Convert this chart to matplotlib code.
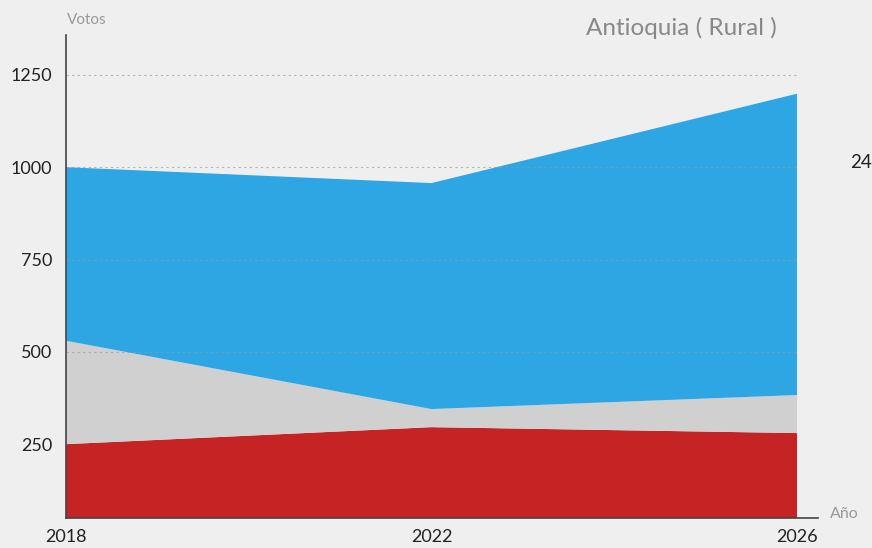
import numpy as np
from matplotlib import pyplot as plt

# datos (votos apilados)
anios = [2018, 2022, 2026]
rojo = [250, 296, 280]
gris = [280, 49, 103]
azul = [470, 612, 816]
yticks = [250, 500, 750, 1000, 1250]

bg = '#efefef'
plt.rcParams['font.family'] = ['Lato', 'DejaVu Sans']

fig = plt.figure(figsize=(8.72, 5.48), dpi=100, facecolor=bg)
ax = fig.add_axes([66/872, 30/548, 752/872, 483/548])
ax.set_facecolor(bg)

ax.stackplot(anios, rojo, gris, azul, colors=['#c62325', '#d0d0d0', '#2ea6e4'],
             linewidth=0, zorder=1)

for v in yticks[1:]:
    ax.hlines(v, anios[0], anios[-1], colors='#9a9a9a', linestyles=(0, (2, 3)),
              linewidth=0.8, alpha=0.7, zorder=2)

ax.set_xlim(2018, 2026.23)
ax.set_ylim(50, 1358)
ax.set_xticks(anios)
ax.set_yticks(yticks)
ax.tick_params(length=0, labelsize=13, colors='#222222')
ax.tick_params(axis='y', pad=10)
ax.tick_params(axis='x', pad=8)

for s in ['top', 'right']:
    ax.spines[s].set_visible(False)
ax.spines['left'].set_color('#444444')
ax.spines['bottom'].set_color('#444444')
ax.spines['left'].set_linewidth(1.2)
ax.spines['bottom'].set_linewidth(1.2)

fig.text(67/872, 1 - 20/548, 'Votos', color='#999999', fontsize=11, ha='left', va='center')
fig.text(777/872, 1 - 28/548, 'Antioquia ( Rural )', color='#888888', fontsize=17.5,
         ha='right', va='center')
fig.text(830/872, 1 - 514/548, 'Año', color='#999999', fontsize=11.5, ha='left', va='center')
fig.text(850/872, 1 - 162/548, '24', color='#222222', fontsize=13.5, ha='left', va='center')

fig.savefig('out.png', dpi=100, facecolor=bg)
